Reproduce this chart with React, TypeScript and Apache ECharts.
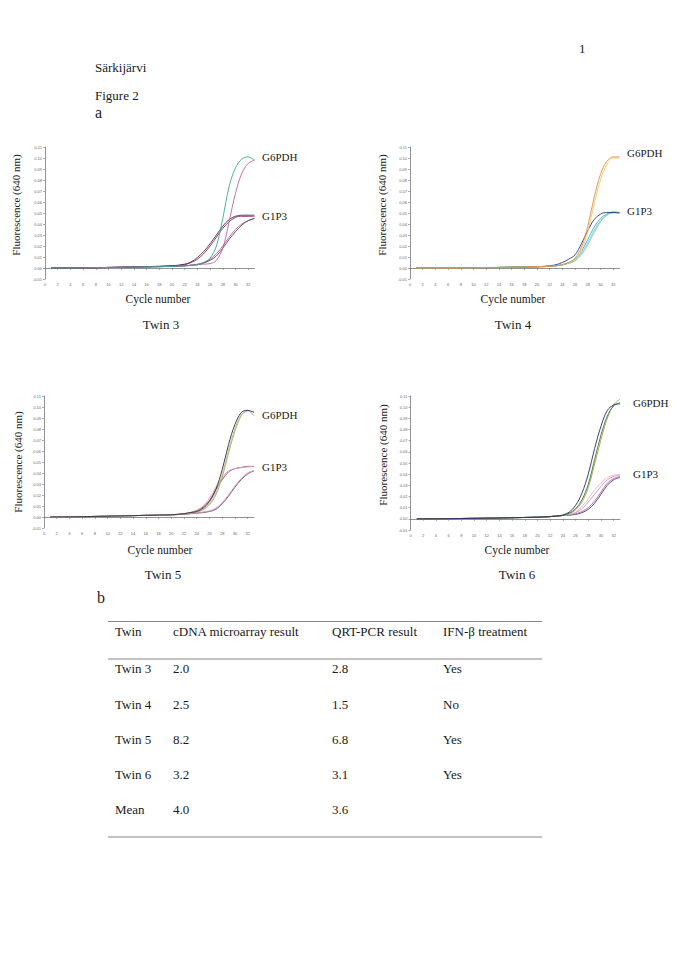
import React, { useEffect, useRef } from "react";
import * as echarts from "echarts";

// ---------- data ----------
const cycles = [1, 4, 8, 12, 16, 20, 22, 23, 24, 25, 26, 27, 28, 29, 30, 31, 32, 33];
const xTicks = [0, 2, 4, 6, 8, 10, 12, 14, 16, 18, 20, 22, 24, 26, 28, 30, 32];
const panelTitles = ["Twin 3", "Twin 4", "Twin 5", "Twin 6"];

// Twin 3
const t3_g6pdh_teal = [0, 0, 0.0003, 0.0007, 0.001, 0.0015, 0.002, 0.0025, 0.003, 0.005, 0.009, 0.02, 0.045, 0.074, 0.091, 0.099, 0.101, 0.098];
const t3_g6pdh_pink = [0, 0, 0.0003, 0.0007, 0.001, 0.0015, 0.002, 0.0025, 0.003, 0.0035, 0.004, 0.007, 0.018, 0.042, 0.068, 0.086, 0.095, 0.098];
const t3_g1p3_a = [0, 0, 0.0003, 0.0007, 0.0012, 0.002, 0.0035, 0.0055, 0.0095, 0.015, 0.022, 0.03, 0.038, 0.044, 0.047, 0.048, 0.048, 0.048];
const t3_g1p3_b = [0, 0, 0.0003, 0.0008, 0.0013, 0.002, 0.003, 0.005, 0.008, 0.013, 0.02, 0.028, 0.036, 0.042, 0.046, 0.047, 0.047, 0.047];
const t3_g1p3_c = [0, 0, 0.0003, 0.0007, 0.001, 0.0015, 0.002, 0.0025, 0.0035, 0.005, 0.008, 0.013, 0.02, 0.028, 0.035, 0.04, 0.043, 0.045];
const t3_g1p3_d = [0, 0, 0.0002, 0.0006, 0.001, 0.0015, 0.002, 0.0025, 0.003, 0.0045, 0.007, 0.011, 0.018, 0.026, 0.033, 0.039, 0.043, 0.045];

// Twin 4
const t4_g6pdh_orange = [0, 0, 0, 0.0003, 0.0007, 0.001, 0.0015, 0.002, 0.003, 0.005, 0.009, 0.019, 0.038, 0.064, 0.085, 0.097, 0.101, 0.101];
const t4_g6pdh_yellow = [0, 0, 0, 0.0003, 0.0007, 0.0012, 0.0017, 0.002, 0.003, 0.0045, 0.008, 0.016, 0.033, 0.058, 0.08, 0.094, 0.1, 0.1];
const t4_g1p3_navy = [0, 0, 0, 0.0003, 0.0007, 0.0012, 0.002, 0.003, 0.005, 0.008, 0.012, 0.022, 0.034, 0.044, 0.049, 0.0505, 0.0505, 0.05];
const t4_g1p3_cyan = [0, 0, 0, 0.0003, 0.0007, 0.001, 0.0015, 0.002, 0.003, 0.005, 0.008, 0.015, 0.026, 0.037, 0.045, 0.049, 0.051, 0.0505];
const t4_g1p3_blue = [0, 0, 0, 0.0003, 0.0007, 0.001, 0.0015, 0.002, 0.003, 0.0045, 0.007, 0.013, 0.023, 0.034, 0.043, 0.048, 0.05, 0.05];
const t4_g1p3_green = [0, 0, 0.0002, 0.0005, 0.0009, 0.0012, 0.0015, 0.002, 0.0028, 0.0042, 0.0065, 0.012, 0.021, 0.032, 0.042, 0.048, 0.0505, 0.0505];

// Twin 5
const t5_g6pdh_navy = [0, 0.0002, 0.0005, 0.001, 0.0015, 0.002, 0.003, 0.004, 0.005, 0.008, 0.014, 0.025, 0.043, 0.066, 0.084, 0.095, 0.097, 0.095];
const t5_g6pdh_olive = [0, 0.0002, 0.0005, 0.001, 0.0015, 0.002, 0.003, 0.0035, 0.0045, 0.007, 0.012, 0.022, 0.038, 0.061, 0.08, 0.093, 0.096, 0.096];
const t5_g6pdh_grey = [0, 0.0002, 0.0005, 0.001, 0.0015, 0.002, 0.003, 0.0035, 0.0045, 0.0065, 0.011, 0.02, 0.036, 0.058, 0.078, 0.092, 0.097, 0.092];
const t5_g1p3_pink = [0, 0.0002, 0.0005, 0.001, 0.0015, 0.002, 0.003, 0.004, 0.006, 0.01, 0.017, 0.027, 0.036, 0.042, 0.044, 0.045, 0.0455, 0.046];
const t5_g1p3_maroon = [0, 0.0002, 0.0005, 0.001, 0.0015, 0.002, 0.003, 0.004, 0.006, 0.009, 0.015, 0.025, 0.034, 0.041, 0.044, 0.045, 0.046, 0.046];
const t5_g1p3_mauve = [0, 0.0002, 0.0005, 0.001, 0.0015, 0.002, 0.0025, 0.003, 0.0035, 0.0045, 0.0055, 0.008, 0.013, 0.02, 0.028, 0.035, 0.04, 0.042];
const t5_g1p3_purple = [0, 0.0002, 0.0005, 0.001, 0.0015, 0.002, 0.0025, 0.003, 0.0035, 0.004, 0.005, 0.007, 0.012, 0.019, 0.027, 0.034, 0.039, 0.042];

// Twin 6
const t6_g6pdh_navy = [0, 0, 0.0003, 0.0006, 0.001, 0.0015, 0.002, 0.0025, 0.0035, 0.006, 0.012, 0.023, 0.04, 0.063, 0.083, 0.097, 0.102, 0.103];
const t6_g6pdh_green = [0, 0, 0.0003, 0.0006, 0.001, 0.0015, 0.002, 0.0025, 0.003, 0.005, 0.009, 0.017, 0.031, 0.053, 0.075, 0.092, 0.101, 0.104];
const t6_g6pdh_olive = [0, 0, 0.0003, 0.0006, 0.001, 0.0015, 0.002, 0.0025, 0.003, 0.0045, 0.008, 0.015, 0.028, 0.049, 0.071, 0.09, 0.102, 0.107];
const t6_g1p3_pink = [0, 0, 0.0003, 0.0006, 0.001, 0.0015, 0.002, 0.0025, 0.003, 0.004, 0.006, 0.011, 0.018, 0.026, 0.032, 0.037, 0.039, 0.04];
const t6_g1p3_mauve = [0, 0, 0.0003, 0.0006, 0.001, 0.0015, 0.002, 0.0025, 0.003, 0.0038, 0.0055, 0.009, 0.015, 0.022, 0.029, 0.035, 0.038, 0.039];
const t6_g1p3_purple = [0, 0, 0.0003, 0.0006, 0.001, 0.0015, 0.002, 0.0025, 0.003, 0.0035, 0.0045, 0.0065, 0.01, 0.016, 0.024, 0.032, 0.036, 0.038];
const t6_g1p3_dark = [0, 0, 0.0003, 0.0006, 0.001, 0.0015, 0.002, 0.0025, 0.003, 0.0033, 0.004, 0.0055, 0.0085, 0.014, 0.022, 0.03, 0.035, 0.037];

const panelCurves: { v: number[]; c: string }[][] = [
  [
    { v: t3_g1p3_c, c: "#a0708a" },
    { v: t3_g1p3_d, c: "#6a3a60" },
    { v: t3_g1p3_b, c: "#8a3050" },
    { v: t3_g1p3_a, c: "#4a2a5a" },
    { v: t3_g6pdh_pink, c: "#c060a8" },
    { v: t3_g6pdh_teal, c: "#3aa89a" },
  ],
  [
    { v: t4_g1p3_green, c: "#8ed08a" },
    { v: t4_g1p3_blue, c: "#7ac8e8" },
    { v: t4_g1p3_cyan, c: "#30b0c8" },
    { v: t4_g1p3_navy, c: "#2a3a7a" },
    { v: t4_g6pdh_yellow, c: "#f0c860" },
    { v: t4_g6pdh_orange, c: "#e09050" },
  ],
  [
    { v: t5_g1p3_purple, c: "#7a4a80" },
    { v: t5_g1p3_mauve, c: "#c08ab0" },
    { v: t5_g1p3_maroon, c: "#a03a5a" },
    { v: t5_g1p3_pink, c: "#e0a0b8" },
    { v: t5_g6pdh_grey, c: "#a0a0a0" },
    { v: t5_g6pdh_olive, c: "#c0c060" },
    { v: t5_g6pdh_navy, c: "#2a2a50" },
  ],
  [
    { v: t6_g1p3_dark, c: "#4a3a6a" },
    { v: t6_g1p3_purple, c: "#9a70b0" },
    { v: t6_g1p3_mauve, c: "#d090b8" },
    { v: t6_g1p3_pink, c: "#f0b0c8" },
    { v: t6_g6pdh_olive, c: "#a0a050" },
    { v: t6_g6pdh_green, c: "#3a7a3a" },
    { v: t6_g6pdh_navy, c: "#2a2a6a" },
  ],
];

// table
const tableHeader = ["Twin", "cDNA microarray result", "QRT-PCR result", "IFN-β treatment"];
const tableTwins = ["Twin 3", "Twin 4", "Twin 5", "Twin 6", "Mean"];
const microarray = ["2.0", "2.5", "8.2", "3.2", "4.0"];
const qrtpcr = ["2.8", "1.5", "6.8", "3.1", "3.6"];
const ifnb = ["Yes", "No", "Yes", "Yes", ""];

// ---------- layout ----------
const grids = [
  { left: 45, top: 147, width: 209.5, height: 132 },
  { left: 410, top: 147, width: 209.5, height: 132 },
  { left: 44, top: 396, width: 210, height: 132 },
  { left: 410.5, top: 396, width: 209.5, height: 134 },
];
const labelPos = [
  { g6: [262, 157], g1: [262, 216], cx: 158, tx: 161, yt: [16, 205] },
  { g6: [627, 153], g1: [627, 211], cx: 513, tx: 513, yt: [382, 205] },
  { g6: [262, 415], g1: [262, 467], cx: 160, tx: 163, yt: [18, 462] },
  { g6: [633, 403], g1: [633, 474], cx: 517, tx: 517, yt: [383, 455] },
];
const titleY = [
  [299, 324],
  [299, 324],
  [550, 574],
  [550, 574],
];

const SERIF = "Liberation Serif";

export default function App() {
  const ref = useRef<HTMLDivElement>(null);
  useEffect(() => {
    if (!ref.current) return;
    const chart = echarts.init(ref.current, undefined, { renderer: "svg" });

    const xAxis: any[] = grids.map((_, i) => ({
      type: "value",
      gridIndex: i,
      min: 0,
      max: 33,
      axisLine: { lineStyle: { color: "#777", width: 0.8 } },
      axisTick: { show: true, length: 2, customValues: xTicks, lineStyle: { color: "#777", width: 0.6 } },
      axisLabel: { customValues: xTicks, fontSize: 4, color: "#666", margin: 3, fontFamily: "Arial" },
      splitLine: { show: false },
    }));
    const yAxis: any[] = grids.map((_, i) => ({
      type: "value",
      gridIndex: i,
      min: -0.01,
      max: 0.11,
      interval: 0.01,
      axisLine: { show: true, lineStyle: { color: "#777", width: 0.8 } },
      axisTick: { show: true, length: 2, lineStyle: { color: "#777", width: 0.6 } },
      axisLabel: {
        fontSize: 4,
        color: "#666",
        margin: 3,
        fontFamily: "Arial",
        formatter: (v: number) => v.toFixed(2),
      },
      splitLine: { show: false },
    }));

    const series: any[] = [];
    panelCurves.forEach((curves, p) => {
      curves.forEach((cv) => {
        series.push({
          type: "line",
          xAxisIndex: p,
          yAxisIndex: p,
          data: cycles.map((c, k) => [c, cv.v[k]]),
          smooth: 0.35,
          showSymbol: false,
          silent: true,
          lineStyle: { color: cv.c, width: 0.9 },
        });
      });
    });

    const txt = (text: string, x: number, y: number, size: number, align = "left", extra: any = {}) => ({
      type: "text",
      x,
      y,
      ...extra,
      style: {
        text,
        fontFamily: SERIF,
        fontSize: size,
        fill: "#1a1a1a",
        textAlign: align,
        textVerticalAlign: "middle",
      },
    });

    const graphics: any[] = [
      txt("1", 579, 48, 13),
      txt("Särkijärvi", 95, 67, 13),
      txt("Figure 2", 95, 95, 13),
      txt("a", 95, 112, 16),
      txt("b", 97, 597, 16),
    ];
    labelPos.forEach((lp, i) => {
      graphics.push(txt("G6PDH", lp.g6[0], lp.g6[1], 11));
      graphics.push(txt("G1P3", lp.g1[0], lp.g1[1], 11));
      graphics.push(txt("Cycle number", lp.cx, titleY[i][0], 11.5, "center"));
      graphics.push(txt(panelTitles[i], lp.tx, titleY[i][1], 13, "center"));
      graphics.push(txt("Fluorescence (640 nm)", lp.yt[0], lp.yt[1], 11, "center", { rotation: Math.PI / 2 }));
    });

    // table
    const colX = [115, 173, 332, 443];
    const rowY = [668, 704, 739, 774, 809];
    tableHeader.forEach((h, i) => graphics.push(txt(h, colX[i], 631, 13)));
    tableTwins.forEach((t, r) => {
      graphics.push(txt(t, colX[0], rowY[r], 13));
      graphics.push(txt(microarray[r], colX[1], rowY[r], 13));
      graphics.push(txt(qrtpcr[r], colX[2], rowY[r], 13));
      if (ifnb[r]) graphics.push(txt(ifnb[r], colX[3], rowY[r], 13));
    });
    [621.5, 659, 837].forEach((y) =>
      graphics.push({
        type: "line",
        shape: { x1: 108, y1: y, x2: 542, y2: y },
        style: { stroke: "#888", lineWidth: 1.2 },
      })
    );

    chart.setOption({
      animation: false,
      backgroundColor: "#ffffff",
      grid: grids.map((g) => ({ ...g, containLabel: false })),
      xAxis,
      yAxis,
      series,
      graphic: graphics,
    });
    return () => chart.dispose();
  }, []);
  return (
    <div
      ref={ref}
      style={{ position: "absolute", left: 0, top: 0, width: 685, height: 969, background: "#fff" }}
    />
  );
}
